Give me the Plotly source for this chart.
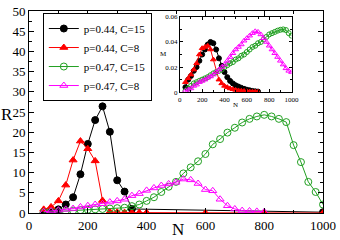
import plotly.graph_objects as go

# ---- main panel data ----
N_b = [50, 75, 100, 125, 150, 175, 200, 225, 250, 275, 300, 325, 350, 1000]
R_b = [0.1, 0.5, 0.9, 2.1, 3.9, 9.6, 17.1, 23.0, 26.4, 20.1, 8.1, 5.3, 1.0, 0.2]

N_r = [50, 75, 100, 125, 150, 175, 200, 225, 250, 275, 300, 325, 350, 375, 400, 600, 800, 1000]
R_r = [0.9, 1.5, 3.0, 6.9, 13.1, 17.8, 15.9, 12.9, 3.1, 0.3, 0.2, 0.1, 0.1, 0.1, 0.1, 0.0, 0.0, 0.0]

N_g = [50, 75, 100, 125, 150, 175, 200, 225, 250, 275, 300, 325, 350, 375, 400, 425, 450, 475,
       500, 525, 550, 575, 600, 625, 650, 675, 700, 725, 750, 775, 800, 825, 850, 875, 900, 925,
       950, 975, 1000]
R_g = [0.2, 0.3, 0.4, 0.5, 0.6, 0.7, 0.8, 0.9, 1.0, 1.1, 1.2, 1.3, 1.7, 2.1, 3.0, 3.9, 5.2, 6.5,
       7.7, 9.8, 11.3, 12.8, 14.6, 17.0, 18.3, 19.9, 21.1, 22.4, 23.3, 23.9, 24.3, 23.9, 23.3, 22.5,
       16.8, 12.6, 7.7, 5.2, 2.1]

N_m = [50, 75, 100, 125, 150, 175, 200, 225, 250, 275, 300, 325, 350, 375, 400, 425, 450, 475,
       500, 525, 550, 575, 600, 625, 650, 675, 700, 725, 750, 775, 800]
R_m = [0.3, 0.5, 0.7, 0.9, 1.1, 1.5, 1.8, 2.1, 2.3, 2.7, 3.0, 3.4, 4.3, 4.8, 5.6, 6.2, 6.8, 7.2,
       7.6, 8.4, 8.2, 7.3, 5.8, 5.5, 3.4, 1.8, 1.0, 0.6, 0.5, 0.4, 0.3]

# ---- inset data ----
Ni_b = [50, 75, 100, 125, 150, 175, 200, 225, 250, 275, 300, 325, 350, 375, 400, 425, 450, 475,
        500, 525, 550, 575, 600, 625, 650, 675, 700]
M_b = [0.004, 0.010, 0.013, 0.017, 0.020, 0.025, 0.030, 0.034, 0.038, 0.040, 0.039, 0.034, 0.027,
       0.021, 0.016, 0.012, 0.009, 0.007, 0.0055, 0.0045, 0.0035, 0.0027, 0.002, 0.0015, 0.001,
       0.0007, 0.0005]

Ni_r = [50, 75, 100, 125, 150, 175, 200, 225, 250, 275, 300, 325, 350, 375, 400, 425, 450, 475,
        500, 525, 550, 575, 600, 625, 650, 675, 700]
M_r = [0.008, 0.011, 0.014, 0.018, 0.023, 0.030, 0.035, 0.036, 0.037, 0.034, 0.026, 0.016, 0.010,
       0.007, 0.005, 0.004, 0.003, 0.0024, 0.0018, 0.0014, 0.0011, 0.0009, 0.0007, 0.0005, 0.0004,
       0.0003, 0.0002]

Ni_g = N_g
M_g = [0.001, 0.003, 0.005, 0.007, 0.008, 0.009, 0.010, 0.011, 0.012, 0.0135, 0.015, 0.016, 0.017,
       0.018, 0.020, 0.0215, 0.023, 0.024, 0.026, 0.027, 0.029, 0.030, 0.032, 0.034, 0.036, 0.037,
       0.039, 0.040, 0.042, 0.044, 0.046, 0.047, 0.048, 0.049, 0.0497, 0.050, 0.0495, 0.047, 0.045]

Ni_m = N_g
M_m = [0.001, 0.002, 0.003, 0.005, 0.006, 0.008, 0.009, 0.010, 0.0115, 0.0125, 0.014, 0.016, 0.018,
       0.020, 0.022, 0.025, 0.028, 0.031, 0.034, 0.036, 0.038, 0.041, 0.043, 0.045, 0.047, 0.0485,
       0.048, 0.046, 0.043, 0.040, 0.037, 0.034, 0.031, 0.028, 0.025, 0.022, 0.019, 0.017, 0.016]

labels = ["p=0.44, C=15", "p=0.44, C=8", "p=0.47, C=15", "p=0.47, C=8"]
colors = ["#000000", "#ff0000", "#22a022", "#ff00ff"]
symbols = ["circle", "triangle-up", "circle-open", "triangle-up-open"]

SERIF = "Liberation Serif, Times New Roman, serif"
fig = go.Figure()

main = [(N_b, R_b), (N_r, R_r), (N_g, R_g), (N_m, R_m)]
for (x, y), lab, c, s in zip(main, labels, colors, symbols):
    fig.add_trace(go.Scatter(
        x=x, y=y, mode="lines+markers", name=lab,
        line=dict(color=c, width=1),
        marker=dict(symbol=s, size=7, color=c, line=dict(color=c, width=1)),
        xaxis="x", yaxis="y"))

inset = [(Ni_b, M_b), (Ni_r, M_r), (Ni_g, M_g), (Ni_m, M_m)]
for (x, y), lab, c, s in zip(inset, labels, colors, symbols):
    fig.add_trace(go.Scatter(
        x=x, y=y, mode="lines+markers", name=lab, showlegend=False,
        line=dict(color=c, width=1),
        marker=dict(symbol=s, size=5, color=c, line=dict(color=c, width=1)),
        xaxis="x2", yaxis="y2"))

ax_common = dict(showgrid=False, zeroline=False, showline=True, linecolor="black",
                 linewidth=1, mirror="ticks", ticks="inside", tickcolor="black")

fig.update_layout(
    width=340, height=240,
    margin=dict(l=29, r=13, t=4, b=27),
    paper_bgcolor="white", plot_bgcolor="white",
    font=dict(family=SERIF, color="black"),
    xaxis=dict(range=[0, 1000], tickvals=[0, 200, 400, 600, 800, 1000], ticklen=5,
               minor=dict(dtick=100, ticks="inside", ticklen=3, tickcolor="black"),
               tickfont=dict(size=13, family=SERIF), **ax_common),
    yaxis=dict(range=[0, 50], dtick=5, tick0=0, ticklen=5,
               minor=dict(dtick=2.5, ticks="inside", ticklen=3, tickcolor="black"),
               tickfont=dict(size=13, family=SERIF), **ax_common),
    xaxis2=dict(domain=[0.513, 0.893], anchor="y2", range=[0, 1000],
                tickvals=[0, 200, 400, 600, 800, 1000], ticklen=3,
                minor=dict(dtick=100, ticks="inside", ticklen=2, tickcolor="black"),
                tickfont=dict(size=7, family=SERIF), **ax_common),
    yaxis2=dict(domain=[0.598, 0.971], anchor="x2", range=[0, 0.06],
                tickvals=[0, 0.02, 0.04, 0.06], ticktext=["0", "0.02", "0.04", "0.06"],
                ticklen=3,
                minor=dict(dtick=0.01, ticks="inside", ticklen=2, tickcolor="black"),
                tickfont=dict(size=7, family=SERIF), **ax_common),
    legend=dict(x=0.047, y=0.99, xanchor="left", yanchor="top",
                bgcolor="white", bordercolor="black", borderwidth=1,
                font=dict(size=11, family=SERIF), tracegroupgap=0,
                itemwidth=30),
    showlegend=True,
)

fig.add_annotation(text="R", xref="paper", yref="paper", x=-0.074, y=0.49,
                   xanchor="center", yanchor="middle", showarrow=False,
                   font=dict(size=17, family=SERIF))
fig.add_annotation(text="N", xref="paper", yref="paper", x=0.508, y=-0.083,
                   xanchor="center", yanchor="middle", showarrow=False,
                   font=dict(size=17, family=SERIF))
fig.add_annotation(text="M", xref="paper", yref="paper", x=0.456, y=0.785,
                   xanchor="center", yanchor="middle", showarrow=False,
                   font=dict(size=7, family=SERIF))
fig.add_annotation(text="N", xref="paper", yref="paper", x=0.703, y=0.535,
                   xanchor="center", yanchor="middle", showarrow=False,
                   font=dict(size=7, family=SERIF))

fig.write_html("out.html", config={"displayModeBar": False},
               post_script="document.body.style.margin='0';document.body.style.padding='0';")
